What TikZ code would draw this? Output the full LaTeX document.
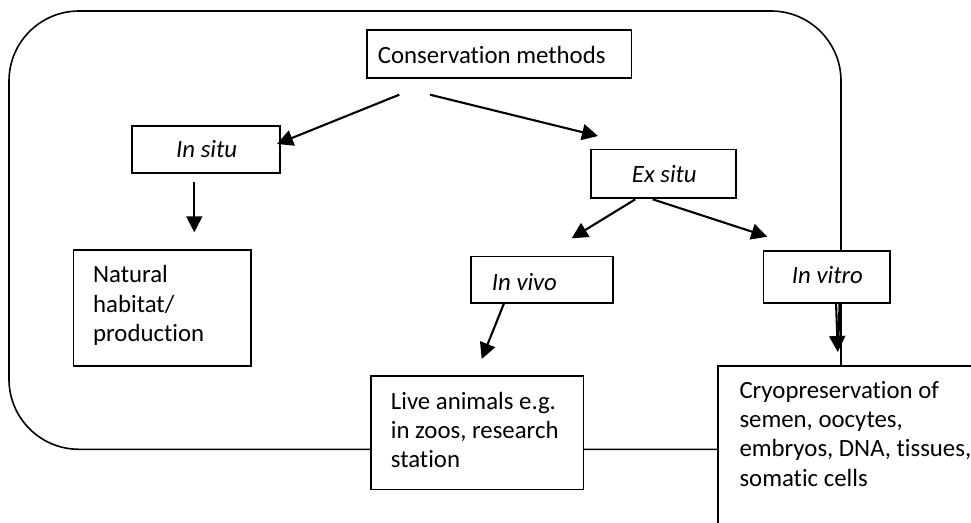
\documentclass[tikz,border=0pt]{standalone}
\usepackage{fontspec}
\setmainfont{Carlito}[RawFeature={-liga}]
\usetikzlibrary{arrows.meta}
\begin{document}
\begin{tikzpicture}[x=1pt,y=-1pt,
  box/.style={draw, line width=1.7pt, fill=white, inner sep=0pt, anchor=north west},
  lbl/.style={inner sep=0pt, anchor=base west, font=\fontsize{24.8}{29.3}\selectfont},
  ilbl/.style={inner sep=0pt, anchor=base west, font=\fontsize{24.8}{29.3}\selectfont\itshape},
  arr/.style={line width=2.1pt, -{Triangle[length=16pt,width=16pt]}},
  plain/.style={line width=2pt},
  frame/.style={line width=1.6pt, rounded corners=70pt}]
\useasboundingbox (0,0) rectangle (971,522);
\clip (0,0) rectangle (971,522);
% outer rounded frame
\draw[frame] (9,11) rectangle (841,449.3);
% boxes
\node[box, minimum width=264.5pt, minimum height=48pt] (cm) at (366,29) {};
\node[box, minimum width=148pt, minimum height=47pt] (insitu) at (131,125) {};
\node[box, minimum width=145pt, minimum height=48.5pt] (exsitu) at (590,148.5) {};
\node[box, minimum width=177.5pt, minimum height=115.7pt] (natural) at (72.5,249.3) {};
\node[box, minimum width=142pt, minimum height=46.5pt] (invivo) at (470,255.5) {};
\node[box, minimum width=126.5pt, minimum height=52pt] (invitro) at (762.5,250) {};
\node[box, minimum width=212.5pt, minimum height=113.5pt] (live) at (370,375) {};
\node[box, minimum width=270pt, minimum height=175pt] (cryo) at (717,365) {};
% labels
\node[lbl] (tcm) at (377.7,63) {Conservation methods};
\node[ilbl] (tinsitu) at (176,157.3) {In situ};
\node[ilbl] (texsitu) at (631.7,182.7) {Ex situ};
\node[ilbl] (tinvivo) at (491.7,290) {In vivo};
\node[ilbl] (tinvitro) at (791.7,283.3) {In vitro};
\node[lbl] (tnatural) at (93,282.7) {\begin{tabular}[t]{@{}l@{}}Natural\\habitat/\\production\end{tabular}};
\node[lbl] (tlive) at (390.7,409.3) {\begin{tabular}[t]{@{}l@{}}Live animals e.g.\\in zoos, research\\station\end{tabular}};
\node[lbl] (tcryo) at (739.3,398.3) {\begin{tabular}[t]{@{}l@{}}Cryopreservation of\\semen, oocytes,\\embryos, DNA, tissues,\\somatic cells\end{tabular}};
% arrow end points
\coordinate (cmL) at (399.3,94.7);
\coordinate (cmR) at (430,94.7);
\coordinate (insitE) at (277,144);
\coordinate (exsitN) at (598,136);
\coordinate (insitS) at (194.3,181.7);
\coordinate (natN) at (194.3,232.3);
\coordinate (exL) at (635.3,199.3);
\coordinate (exR) at (652.7,199.3);
\coordinate (vivoN) at (571.7,238.3);
\coordinate (vitroN) at (767.3,236.7);
\coordinate (vivoS) at (504,303.3);
\coordinate (liveN) at (481.7,359);
\coordinate (vitroSa) at (836,302);
\coordinate (vitroSb) at (839.5,302);
\coordinate (cryoN) at (837.8,352);
\coordinate (cryoNb) at (838.4,344);
% arrows
\draw[arr] (cmL) -- (insitE);
\draw[arr] (cmR) -- (exsitN);
\draw[arr] (insitS) -- (natN);
\draw[arr] (exL) -- (vivoN);
\draw[arr] (exR) -- (vitroN);
\draw[arr] (vivoS) -- (liveN);
\draw[arr] (vitroSa) -- (cryoN);
\draw[plain] (vitroSb) -- (cryoNb);
\end{tikzpicture}
\end{document}
